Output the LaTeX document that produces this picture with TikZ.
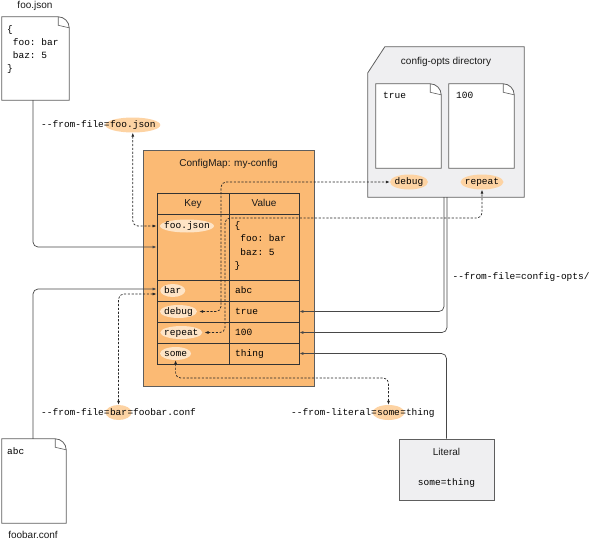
\documentclass[tikz,border=0pt]{standalone}
\usepackage{fontspec}
\setmainfont{Liberation Sans}
\setmonofont{Liberation Mono}
\usetikzlibrary{arrows.meta,shapes.geometric,calc}
\definecolor{cmorange}{HTML}{FBBA74}
\definecolor{hlwhite}{HTML}{FDD3A3}
\definecolor{hlkey}{HTML}{FEE4C6}
\definecolor{panelgray}{HTML}{EFEFF1}
\definecolor{boxedge}{HTML}{5E5E5E}
\definecolor{txt}{HTML}{1A1A1A}
\pgfdeclarelayer{back}\pgfdeclarelayer{hl}
\pgfsetlayers{back,hl,main}
\newcommand\dd{-\kern0pt-}
\newcommand\docoutline[1]{%
  \draw[boxline, fill=white] (#1.north west) -- ([xshift=-11pt]#1.north east)
    .. controls ([xshift=-5pt]#1.north east) and ([yshift=-5pt]#1.north east) .. ([yshift=-11pt]#1.north east)
    -- (#1.south east) -- (#1.south west) -- cycle;
  \draw[boxline, line width=0.6pt] ([xshift=-11pt]#1.north east) -- ([xshift=-11pt,yshift=-8.5pt]#1.north east)
    .. controls ([xshift=-6pt,yshift=-9.5pt]#1.north east) .. ([yshift=-11pt]#1.north east);
}
\begin{document}
\begin{tikzpicture}[x=1pt,y=-1pt,
  sans/.style={font=\fontsize{10}{12}\selectfont, text=txt, inner sep=0, text height=7.5pt, text depth=2.5pt},
  mono/.style={font=\ttfamily\fontsize{9.5}{12}\selectfont, text=black, inner sep=0, text height=7pt, text depth=2pt},
  boxline/.style={draw=boxedge, line width=0.8pt},
  docnode/.style={rectangle, inner sep=0},
  cell/.style={draw=black!80, line width=0.8pt, rectangle, inner sep=0},
  hlw/.style={ellipse, fill=hlwhite, inner sep=0, minimum height=15pt},
  hlk/.style={ellipse, fill=hlkey, inner sep=0, minimum height=13pt},
  conn/.style={draw=black!72, line width=0.7pt, rounded corners=5pt, -{Latex[length=4pt,width=3pt]}},
  dconn/.style={draw=black!85, line width=0.7pt, dash pattern=on 2.2pt off 1.6pt, rounded corners=5pt,
    {Latex[length=4pt,width=3pt]}-{Latex[length=4pt,width=3pt]}},
]
\useasboundingbox (0,0) rectangle (590,541);

% ---------- background panels ----------
\begin{pgfonlayer}{back}
  \node[boxline, fill=cmorange, rectangle, inner sep=0, minimum width=171pt, minimum height=236pt] (cm) at (228.5,268) {};
  \node[rectangle, inner sep=0, minimum width=156pt, minimum height=150pt] (dir) at (446,122) {};
  \draw[boxline, fill=panelgray] ([yshift=-26pt]dir.north west) -- ([xshift=17pt]dir.north west)
     -- (dir.north east) -- (dir.south east) -- (dir.south west) -- cycle;
  \node[boxline, fill=panelgray, rectangle, inner sep=0, minimum width=95pt, minimum height=61pt] (lit) at (446.5,469.5) {};
\end{pgfonlayer}

% ---------- documents ----------
\node[docnode, minimum width=67pt, minimum height=83pt] (foojson) at (35.5,58.5) {};
\docoutline{foojson}
\node[docnode, minimum width=64pt, minimum height=84pt] (foobar) at (34,481) {};
\docoutline{foobar}
\node[docnode, minimum width=65pt, minimum height=84pt] (docA) at (408.5,126) {};
\docoutline{docA}
\node[docnode, minimum width=65pt, minimum height=84pt] (docB) at (481.5,126) {};
\docoutline{docB}

\node[sans] (lblfoo) at (35,6) {foo.json};
\node[sans] (lblfoobar) at (33,536) {foobar.conf};
\node[mono, anchor=west] (fj1) at (7,30) {\{};
\node[mono, anchor=west] (fj2) at (12.7,43) {foo: bar};
\node[mono, anchor=west] (fj3) at (12.7,56) {baz: 5};
\node[mono, anchor=west] (fj4) at (7,69) {\}};
\node[mono, anchor=west] (fbtxt) at (7,452) {abc};

% ---------- ConfigMap table ----------
\node[sans] (cmtitle) at (228.5,164) {ConfigMap: my-config};
\node[cell, minimum width=72pt, minimum height=21pt] (kh) at (193,203.5) {};
\node[cell, minimum width=70pt, minimum height=21pt] (vh) at (264,203.5) {};
\node[sans] (khl) at (kh.center) {Key};
\node[sans] (vhl) at (vh.center) {Value};
\node[cell, minimum width=72pt, minimum height=66pt] (kfoo) at (193,247) {};
\node[cell, minimum width=70pt, minimum height=66pt] (vfoo) at (264,247) {};
\node[cell, minimum width=72pt, minimum height=21pt] (kbar) at (193,290.5) {};
\node[cell, minimum width=70pt, minimum height=21pt] (vbar) at (264,290.5) {};
\node[cell, minimum width=72pt, minimum height=21pt] (kdebug) at (193,311.5) {};
\node[cell, minimum width=70pt, minimum height=21pt] (vdebug) at (264,311.5) {};
\node[cell, minimum width=72pt, minimum height=21pt] (krepeat) at (193,332.5) {};
\node[cell, minimum width=70pt, minimum height=21pt] (vrepeat) at (264,332.5) {};
\node[cell, minimum width=72pt, minimum height=21pt] (ksome) at (193,353.5) {};
\node[cell, minimum width=70pt, minimum height=21pt] (vsome) at (264,353.5) {};

\node[mono, anchor=west] (tkfoo) at (164,226) {foo.json};
\node[mono, anchor=west] (tkbar) at (164,290.5) {bar};
\node[mono, anchor=west] (tkdebug) at (164,311.5) {debug};
\node[mono, anchor=west] (tkrepeat) at (164,332.5) {repeat};
\node[mono, anchor=west] (tksome) at (164,353.5) {some};

\node[mono, anchor=west] (tv1) at (234.5,226) {\{};
\node[mono, anchor=west] (tv2) at (240.2,239.3) {foo: bar};
\node[mono, anchor=west] (tv3) at (240.2,252.6) {baz: 5};
\node[mono, anchor=west] (tv4) at (234.5,266) {\}};
\node[mono, anchor=west] (tvbar) at (235,290.5) {abc};
\node[mono, anchor=west] (tvdebug) at (235,311.5) {true};
\node[mono, anchor=west] (tvrepeat) at (235,332.5) {100};
\node[mono, anchor=west] (tvsome) at (235,353.5) {thing};

% ---------- config-opts directory ----------
\node[sans] (dirtitle) at (446,62) {config-opts directory};
\node[mono, anchor=west] (ttrue) at (383,96) {true};
\node[mono, anchor=west] (t100) at (456,96) {100};
\node[mono] (tdebug) at (409,182) {debug};
\node[mono] (trepeat) at (482,182) {repeat};

% ---------- literal ----------
\node[sans] (littitle) at (446.5,453) {Literal};
\node[mono] (litval) at (446.5,483) {some=thing};

% ---------- command texts ----------
\node[mono, anchor=west] (ff1) at (41,125) {\dd from-file=};
\node[mono, anchor=west] (ff2) at (ff1.east) {foo.json};
\node[mono, anchor=west] (fb1) at (41,412.5) {\dd from-file=};
\node[mono, anchor=west] (fb2) at (fb1.east) {bar};
\node[mono, anchor=west] (fb3) at (fb2.east) {=foobar.conf};
\node[mono, anchor=west] (fl1) at (291,412.5) {\dd from-literal=};
\node[mono, anchor=west] (fl2) at (fl1.east) {some};
\node[mono, anchor=west] (fl3) at (fl2.east) {=thing};
\node[mono, anchor=west] (fc) at (452.5,277) {\dd from-file=config-opts/};

% ---------- highlight ellipses ----------
\begin{pgfonlayer}{hl}
  \node[hlw, minimum width=55pt] (eff) at (ff2.center) {};
  \node[hlw, minimum width=26pt] (efb) at (fb2.center) {};
  \node[hlw, minimum width=32pt] (efl) at (fl2.center) {};
  \node[hlw, minimum width=38pt] (edbg) at (tdebug.center) {};
  \node[hlw, minimum width=43pt] (erpt) at (trepeat.center) {};
  \node[hlk, minimum width=54pt] (ekfoo) at (tkfoo.center) {};
  \node[hlk, minimum width=25pt] (ekbar) at (tkbar.center) {};
  \node[hlk, minimum width=37pt] (ekdebug) at (tkdebug.center) {};
  \node[hlk, minimum width=42pt] (ekrepeat) at (tkrepeat.center) {};
  \node[hlk, minimum width=31pt] (eksome) at (tksome.center) {};
\end{pgfonlayer}

% ---------- connectors ----------
\draw[conn] ([xshift=-2.5pt]foojson.south) |- (kfoo.west);
\draw[conn] ([xshift=-1pt]foobar.north) |- ([yshift=1.5pt]kbar.west);
\draw[dconn] (eff.south) |- (kfoo.west |- ekfoo.west);
\draw[dconn] (efb.north) |- ([yshift=-3.5pt]kbar.west);
\draw[dconn] ([xshift=2pt]ekdebug.east) -| (221,250) |- (edbg.west);
\draw[dconn] ([xshift=2pt]ekrepeat.east) -| (225,218) -| (erpt.south);
\draw[dconn] (eksome.south) |- (300,378) -| (efl.north);
\draw[conn] ([xshift=-2pt]dir.south) |- (vdebug.east);
\draw[conn] ([xshift=1pt]dir.south) |- (vrepeat.east);
\draw[conn] (lit.north) |- (vsome.east);
\end{tikzpicture}
\end{document}
